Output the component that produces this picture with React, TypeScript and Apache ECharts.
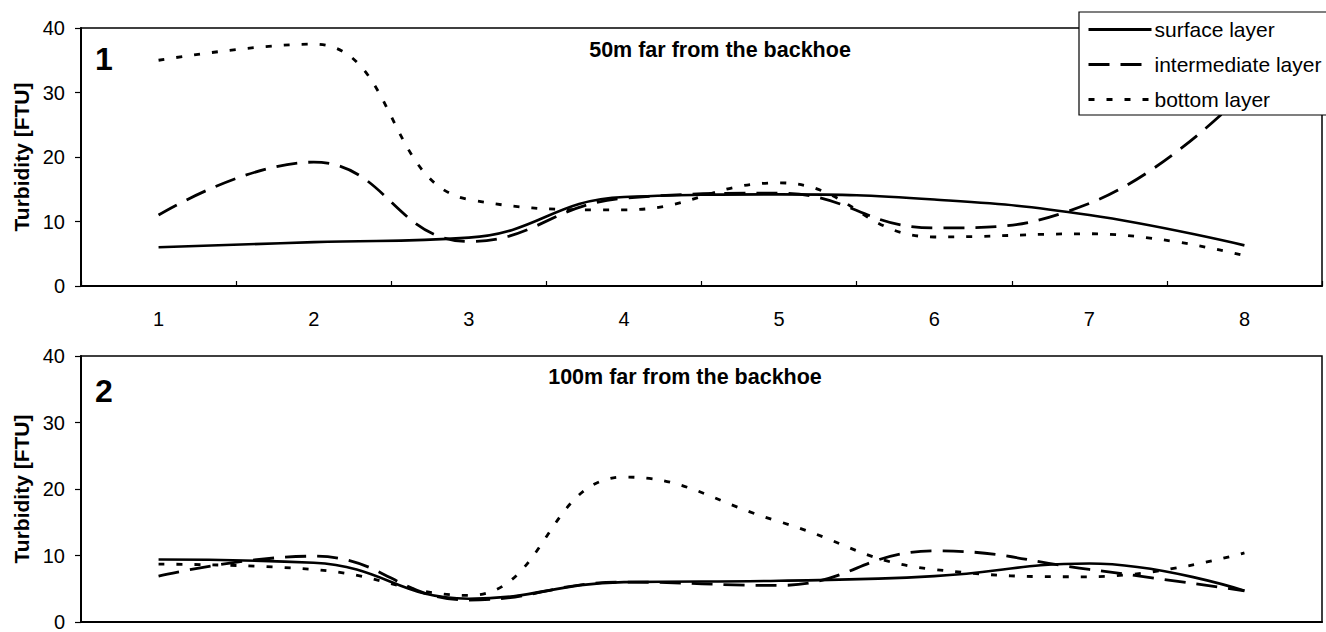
import React, { useEffect, useRef } from "react";
import * as echarts from "echarts";

const categories = ["1", "2", "3", "4", "5", "6", "7", "8"];
const yTicks = { min: 0, max: 40, interval: 10 };

const seriesNames = ["surface layer", "intermediate layer", "bottom layer"];

// Panel 1: 50m far from the backhoe
const p1Surface = [6, 6.8, 7.5, 13.8, 14.2, 13.4, 11, 6.3];
const p1Intermediate = [11, 19.2, 6.9, 13.6, 14.4, 9, 12.8, 30];
const p1Bottom = [35, 37.5, 13.4, 11.8, 16, 7.6, 8.1, 4.7];

// Panel 2: 100m far from the backhoe
const p2Surface = [9.4, 8.9, 3.5, 6, 6.2, 6.9, 8.8, 4.7];
const p2Intermediate = [6.9, 9.9, 3.3, 6, 5.5, 10.7, 7.9, 4.7];
const p2Bottom = [8.7, 7.9, 4, 21.8, 15.1, 7.9, 6.8, 10.4];

const panelTitles = ["50m far from the backhoe", "100m far from the backhoe"];
const panelNumbers = ["1", "2"];
const yAxisName = "Turbidity [FTU]";

const FONT = "Liberation Sans, Arial, Helvetica, sans-serif";

export default function App() {
  const ref = useRef<HTMLDivElement>(null);

  useEffect(() => {
    document.body.style.margin = "0";
    if (!ref.current) return;
    const chart = echarts.init(ref.current, null, { renderer: "svg" });

    const lineStyles = [
      { color: "#000", width: 2.6, type: "solid" as any },
      { color: "#000", width: 2.8, type: [21, 11] as any },
      { color: "#000", width: 2.8, type: [6, 12] as any },
    ];

    const panels = [
      [p1Surface, p1Intermediate, p1Bottom],
      [p2Surface, p2Intermediate, p2Bottom],
    ];

    const series: any[] = [];
    panels.forEach((panel, gi) => {
      panel.forEach((data, si) => {
        series.push({
          name: seriesNames[si],
          type: "line",
          xAxisIndex: gi,
          yAxisIndex: gi,
          data,
          smooth: 0.45,
          symbol: "none",
          lineStyle: lineStyles[si],
          itemStyle: { color: "#000" },
          z: 3,
        });
      });
    });

    const gridDefs = [
      { left: 81, top: 28, width: 1241, height: 258 },
      { left: 81, top: 356, width: 1241, height: 269 },
    ];

    const option: any = {
      animation: false,
      backgroundColor: "#fff",
      textStyle: { fontFamily: FONT, color: "#000" },
      grid: gridDefs.map((g) => ({
        ...g,
        show: true,
        borderColor: "#000",
        borderWidth: 1.5,
        backgroundColor: "transparent",
        containLabel: false,
      })),
      xAxis: gridDefs.map((_, i) => ({
        type: "category",
        gridIndex: i,
        data: categories,
        boundaryGap: true,
        axisLine: { show: true, lineStyle: { color: "#000", width: 2 } },
        axisTick: {
          show: i === 0,
          inside: true,
          length: 5,
          lineStyle: { color: "#000", width: 1.2 },
        },
        axisLabel: {
          show: i === 0,
          margin: 23,
          fontSize: 20,
          color: "#000",
          fontFamily: FONT,
        },
        splitLine: { show: false },
      })),
      yAxis: gridDefs.map((_, i) => ({
        type: "value",
        gridIndex: i,
        min: yTicks.min,
        max: yTicks.max,
        interval: yTicks.interval,
        name: yAxisName,
        nameLocation: "middle",
        nameGap: 49,
        nameTextStyle: {
          fontSize: 21,
          fontWeight: "bold",
          color: "#000",
          fontFamily: FONT,
        },
        axisLine: { show: true, lineStyle: { color: "#000", width: 2 } },
        axisTick: {
          show: true,
          inside: false,
          length: 6,
          lineStyle: { color: "#000", width: 1.2 },
        },
        axisLabel: {
          margin: 16,
          fontSize: 20,
          color: "#000",
          fontFamily: FONT,
        },
        splitLine: { show: false },
      })),
      legend: {
        data: seriesNames,
        orient: "vertical",
        left: 1079,
        top: 12,
        padding: [7, 8, 5, 8],
        itemWidth: 63,
        itemHeight: 20,
        itemGap: 14,
        itemStyle: { opacity: 0 },
        lineStyle: { width: 3 },
        backgroundColor: "#fff",
        borderColor: "#000",
        borderWidth: 1.2,
        borderRadius: 0,
        textStyle: { fontSize: 21, color: "#000", fontFamily: FONT, padding: [0, 0, 0, -2] },
        z: 10,
      },
      graphic: [
        {
          type: "text",
          x: 104,
          y: 59,
          style: {
            text: panelNumbers[0],
            font: `bold 32px ${FONT}`,
            fill: "#000",
            align: "center",
            verticalAlign: "middle",
          },
        },
        {
          type: "text",
          x: 720,
          y: 50,
          style: {
            text: panelTitles[0],
            font: `bold 21.5px ${FONT}`,
            fill: "#000",
            align: "center",
            verticalAlign: "middle",
          },
        },
        {
          type: "text",
          x: 104,
          y: 391,
          style: {
            text: panelNumbers[1],
            font: `bold 32px ${FONT}`,
            fill: "#000",
            align: "center",
            verticalAlign: "middle",
          },
        },
        {
          type: "text",
          x: 685,
          y: 377,
          style: {
            text: panelTitles[1],
            font: `bold 21.5px ${FONT}`,
            fill: "#000",
            align: "center",
            verticalAlign: "middle",
          },
        },
      ],
      series,
    };

    chart.setOption(option);
    return () => chart.dispose();
  }, []);

  return <div ref={ref} style={{ width: 1326, height: 632 }} />;
}
